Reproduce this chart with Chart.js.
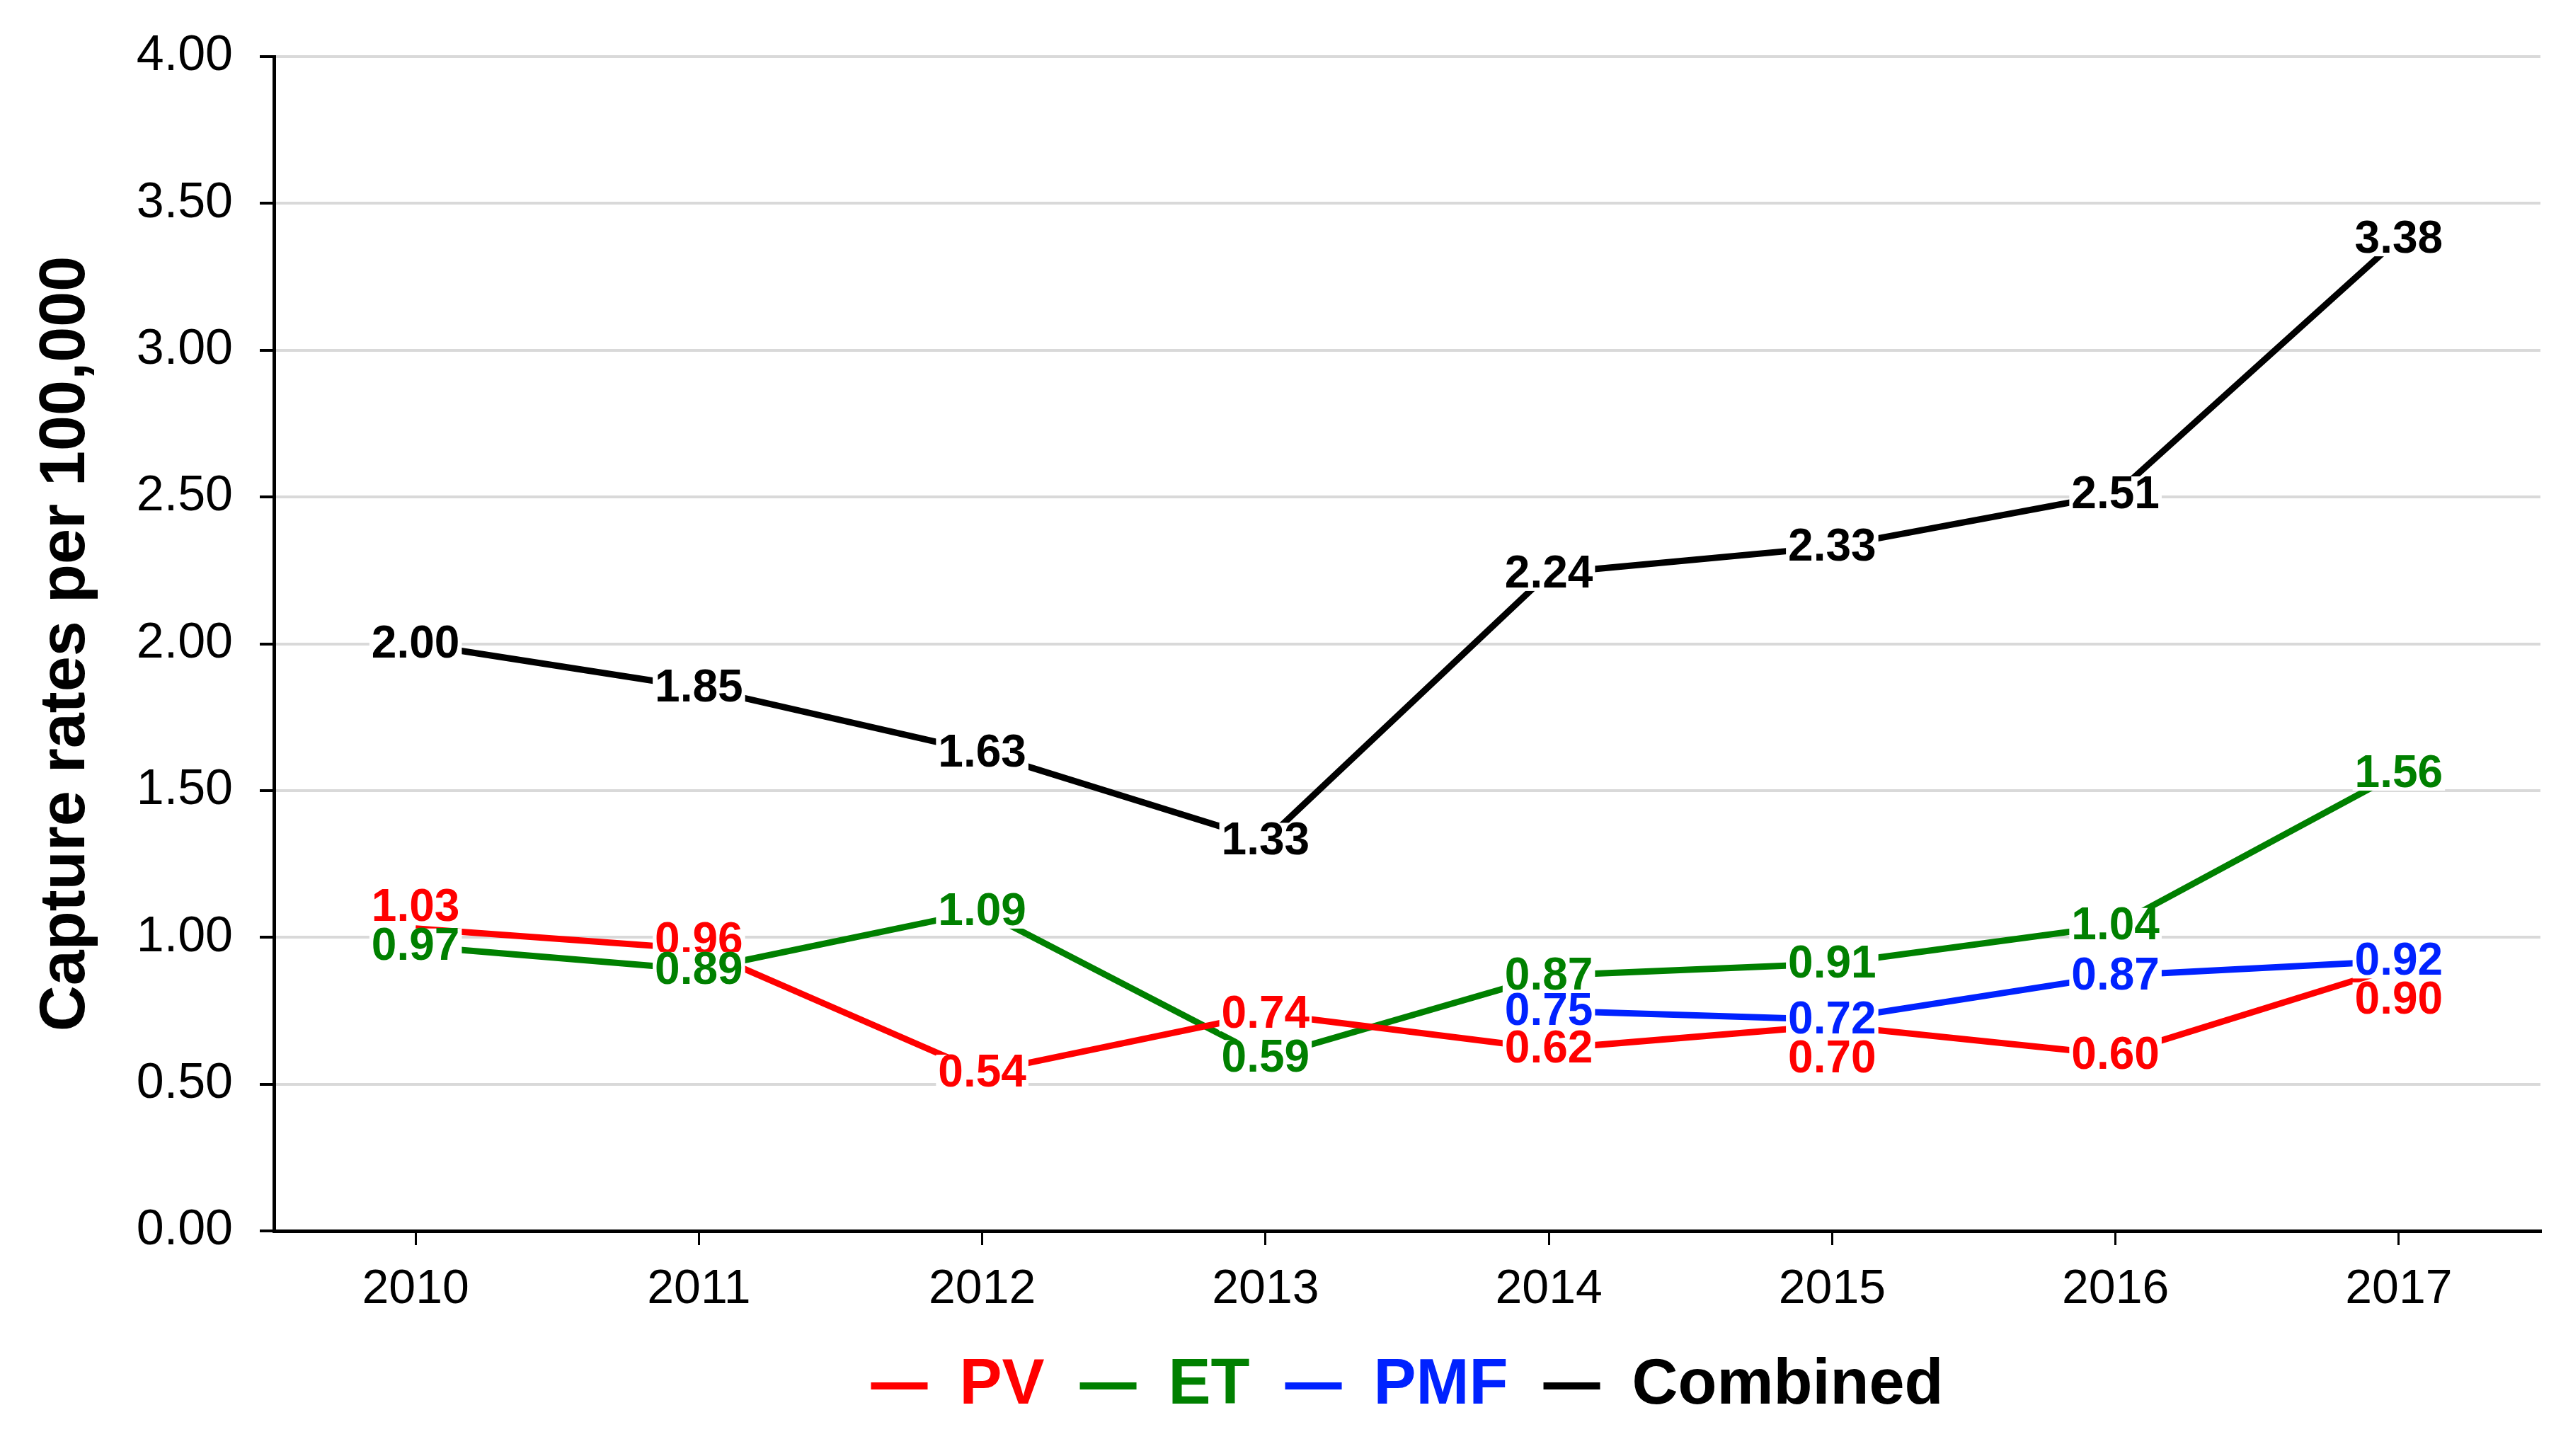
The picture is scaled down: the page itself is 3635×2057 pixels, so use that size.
<!DOCTYPE html>
<html>
<head>
<meta charset="utf-8">
<script src="https://cdn.jsdelivr.net/npm/chart.js@4/dist/chart.umd.min.js"></script>
<style>
  html, body { margin: 0; padding: 0; background: #fff; }
  #wrap { width: 3635px; height: 2057px; position: relative; }
</style>
</head>
<body>
<div id="wrap"><canvas id="c"></canvas></div>
<script>
// data
const years = ["2010", "2011", "2012", "2013", "2014", "2015", "2016", "2017"];
const pv = [1.03, 0.96, 0.54, 0.74, 0.62, 0.70, 0.60, 0.90];
const et = [0.97, 0.89, 1.09, 0.59, 0.87, 0.91, 1.04, 1.56];
const pmf = [null, null, null, null, 0.75, 0.72, 0.87, 0.92];
const combined = [2.00, 1.85, 1.63, 1.33, 2.24, 2.33, 2.51, 3.38];

const FONT = "'Liberation Sans', Arial, sans-serif";

// value labels: centred on the point, white box hides the line behind
const valueLabels = {
  id: "valueLabels",
  afterDatasetsDraw(chart, args, opts) {
    const ctx = chart.ctx;
    ctx.save();
    ctx.font = "bold " + opts.size + "px " + FONT;
    ctx.textAlign = "center";
    ctx.textBaseline = "middle";
    chart.data.datasets.forEach((ds, i) => {
      const meta = chart.getDatasetMeta(i);
      const shift = (opts.shift[i] || []);
      meta.data.forEach((pt, j) => {
        const v = ds.data[j];
        if (v == null) return;
        const txt = v.toFixed(2);
        const x = pt.x;
        const y = pt.y + (shift[j] || 0);
        const w = ctx.measureText(txt).width;
        const h = opts.size * 0.78;
        ctx.fillStyle = "#fff";
        ctx.fillRect(x - w / 2 - 3, y - h / 2, w + 6, h);
        ctx.fillStyle = ds.borderColor;
        ctx.fillText(txt, x, y + 2);
      });
    });
    ctx.restore();
  }
};

function line(label, data, color) {
  return {
    label, data,
    borderColor: color, backgroundColor: color,
    borderWidth: 9, pointRadius: 0, tension: 0, spanGaps: false,
  };
}

new Chart(document.getElementById("c"), {
  type: "line",
  data: {
    labels: years,
    datasets: [
      line("PV", pv, "#ff0000"),
      line("ET", et, "#008000"),
      line("PMF", pmf, "#0022ff"),
      line("Combined", combined, "#000000"),
    ],
  },
  plugins: [valueLabels],
  options: {
    responsive: true,
    maintainAspectRatio: false,
    devicePixelRatio: 1,
    animation: false,
    layout: { padding: { top: 20, right: 46, left: 0, bottom: 44 } },
    plugins: {
      tooltip: { enabled: false },
      valueLabels: {
        size: 64,
        shift: [[-30, -12, 0, 0, 0, 47, 0, 47], [], [], []],
      },
      legend: {
        position: "bottom",
        fullSize: false,
        labels: {
          font: { family: FONT, size: 90, weight: "bold" },
          boxWidth: 80,
          boxHeight: 10,
          padding: 50,
          generateLabels(chart) {
            return Chart.defaults.plugins.legend.labels.generateLabels(chart).map(it => {
              it.fontColor = it.strokeStyle;
              it.lineWidth = 0;
              return it;
            });
          },
        },
      },
    },
    scales: {
      x: {
        offset: true,
        grid: { drawOnChartArea: false, drawTicks: true, tickLength: 20, tickColor: "#000", lineWidth: 3 },
        border: { color: "#000", width: 5 },
        ticks: { color: "#000", padding: 22, font: { family: FONT, size: 68 } },
        afterFit(s) { s.height = 124; },
      },
      y: {
        min: 0, max: 4,
        grid: { color: "#d9d9d9", lineWidth: 4, tickLength: 20, tickColor: "#000" },
        border: { color: "#000", width: 5 },
        ticks: {
          stepSize: 0.5, color: "#000", padding: 38,
          font: { family: FONT, size: 70 },
          callback: v => v.toFixed(2),
        },
        title: {
          display: true,
          text: "Capture rates per 100,000",
          color: "#000",
          padding: { top: 40, bottom: 0 },
          font: { family: FONT, size: 90, weight: "bold" },
        },
        afterFit(s) { s.width = 387; },
      },
    },
  },
});
</script>
</body>
</html>
